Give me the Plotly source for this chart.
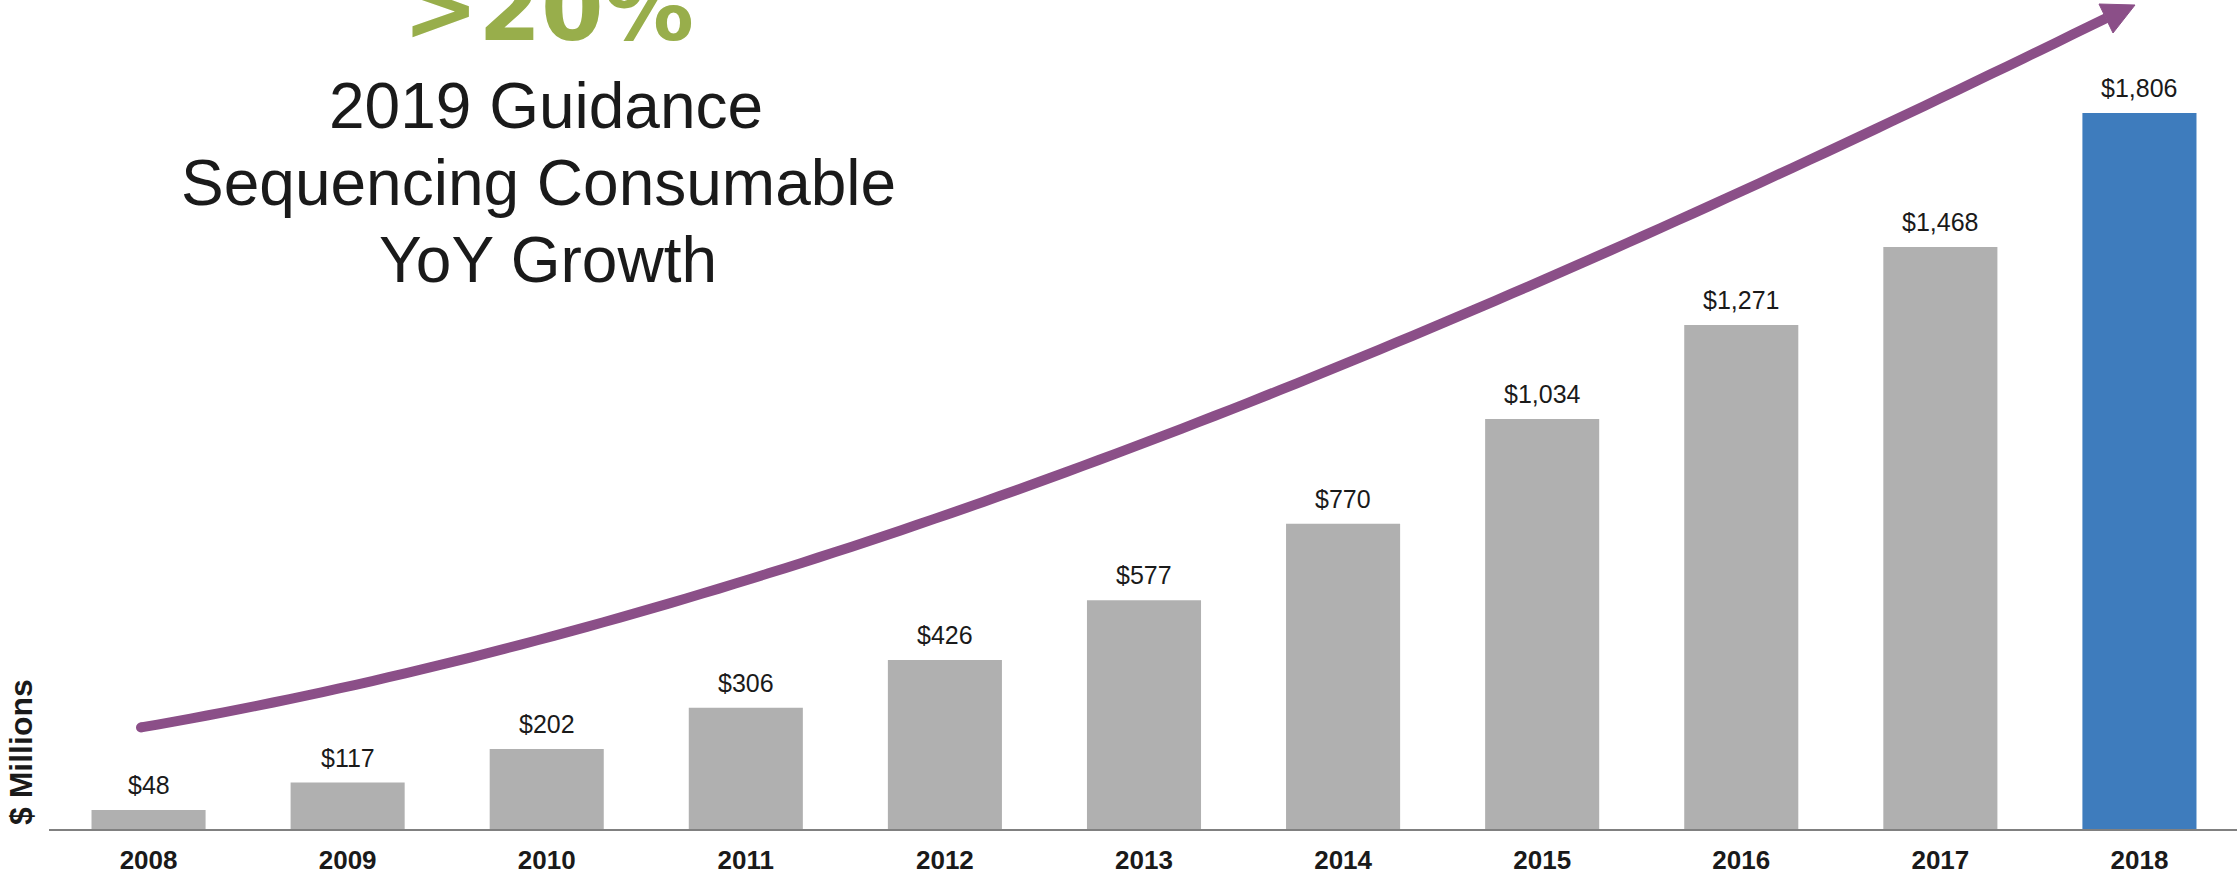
import numpy as np
import plotly.graph_objects as go

# ---------------- data ----------------
years = ["2008", "2009", "2010", "2011", "2012", "2013", "2014", "2015", "2016", "2017", "2018"]
revenue = [48, 117, 202, 306, 426, 577, 770, 1034, 1271, 1468, 1806]
value_labels = ["$48", "$117", "$202", "$306", "$426", "$577", "$770",
                "$1,034", "$1,271", "$1,468", "$1,806"]
title_lines = ["2019 Guidance", "Sequencing Consumable", "YoY Growth"]
growth_text = ">20%"
y_label = "$ Millions"

# ---------------- layout geometry ----------------
W, H = 2237, 876
ML, MR, MT, MB = 49, 0, 0, 47
PW = W - ML - MR
PH = H - MT - MB


def px(x):
    return (x - ML) / PW


def py(y):
    return (H - MB - y) / PH


GRAY = "#B0B0B0"
BLUE = "#3E7CBD"
PURPLE = "#8B4F88"
GREEN = "#98AE4B"
TXT = "#1A1A1A"
FONT = "Liberation Sans, Arial, sans-serif"

bar_colors = [GRAY] * (len(years) - 1) + [BLUE]

fig = go.Figure()
fig.add_trace(go.Bar(
    x=years, y=revenue, marker=dict(color=bar_colors, line=dict(width=0)),
    hoverinfo="skip", showlegend=False,
))

annotations = []
for i, (v, lab) in enumerate(zip(revenue, value_labels)):
    annotations.append(dict(
        x=i, y=v, xref="x", yref="y", text=lab, showarrow=False,
        yanchor="bottom", xanchor="center", yshift=9,
        font=dict(family=FONT, size=25, color=TXT),
    ))

# headline text block
title_pos = [(546, 106), (538, 183), (548, 260)]
for t, (cx, cy) in zip(title_lines, title_pos):
    annotations.append(dict(
        x=px(cx), y=py(cy), xref="paper", yref="paper", text=t, showarrow=False,
        xanchor="center", yanchor="middle",
        font=dict(family=FONT, size=64, color=TXT),
    ))
annotations.append(dict(
    x=px(548), y=py(9), xref="paper", yref="paper", text=growth_text, showarrow=False,
    xanchor="center", yanchor="middle",
    font=dict(family="DejaVu Sans, sans-serif", size=90, color=GREEN, weight="bold"),
))
# y-axis label
annotations.append(dict(
    x=px(21), y=py(752), xref="paper", yref="paper", text=y_label, showarrow=False,
    textangle=-90, xanchor="center", yanchor="middle",
    font=dict(family=FONT, size=32, color=TXT, weight="bold"),
))

# growth arrow (decoration): smooth fit through traced pixel points
trace_pts = [(141, 729), (336, 687), (536, 640), (900, 530), (1000, 497), (1153, 442),
             (1306, 380), (1460, 315), (1601, 253), (1900, 117), (2106, 19)]
tx = np.array([p[0] for p in trace_pts], dtype=float)
ty = np.array([p[1] for p in trace_pts], dtype=float)
coef = np.polyfit(tx, ty, 3)
xs = np.linspace(tx[0], tx[-1], 120)
ys = np.polyval(coef, xs)
path = "M " + " L ".join(f"{px(a):.6f},{py(b):.6f}" for a, b in zip(xs, ys))

head = [(2099, 4), (2135, 5), (2113, 33)]
head_path = "M " + " L ".join(f"{px(a)},{py(b)}" for a, b in head) + " Z"

r = 5
sx, sy = xs[0], ys[0]
shapes = [
    dict(type="path", path=path, xref="paper", yref="paper",
         line=dict(color=PURPLE, width=10), fillcolor="rgba(0,0,0,0)"),
    dict(type="circle", xref="paper", yref="paper",
         x0=px(sx - r), x1=px(sx + r), y0=py(sy + r), y1=py(sy - r),
         line=dict(width=0), fillcolor=PURPLE),
    dict(type="path", path=head_path, xref="paper", yref="paper",
         line=dict(color=PURPLE, width=1), fillcolor=PURPLE),
]

fig.update_layout(
    width=W, height=H,
    margin=dict(l=ML, r=MR, t=MT, b=MB, pad=0),
    paper_bgcolor="white", plot_bgcolor="white",
    bargap=0.427,
    xaxis=dict(
        type="category", range=[-0.5, 10.49], showline=True, linecolor="#808080",
        linewidth=2, showgrid=False, zeroline=False, ticks="",
        tickfont=dict(family=FONT, size=26, color=TXT, weight="bold"),
        ticklabelstandoff=7,
        fixedrange=True,
    ),
    yaxis=dict(range=[0, 2091], visible=False, showgrid=False, zeroline=False,
               fixedrange=True),
    annotations=annotations,
    shapes=shapes,
    showlegend=False,
)

fig.write_html("out.html")
